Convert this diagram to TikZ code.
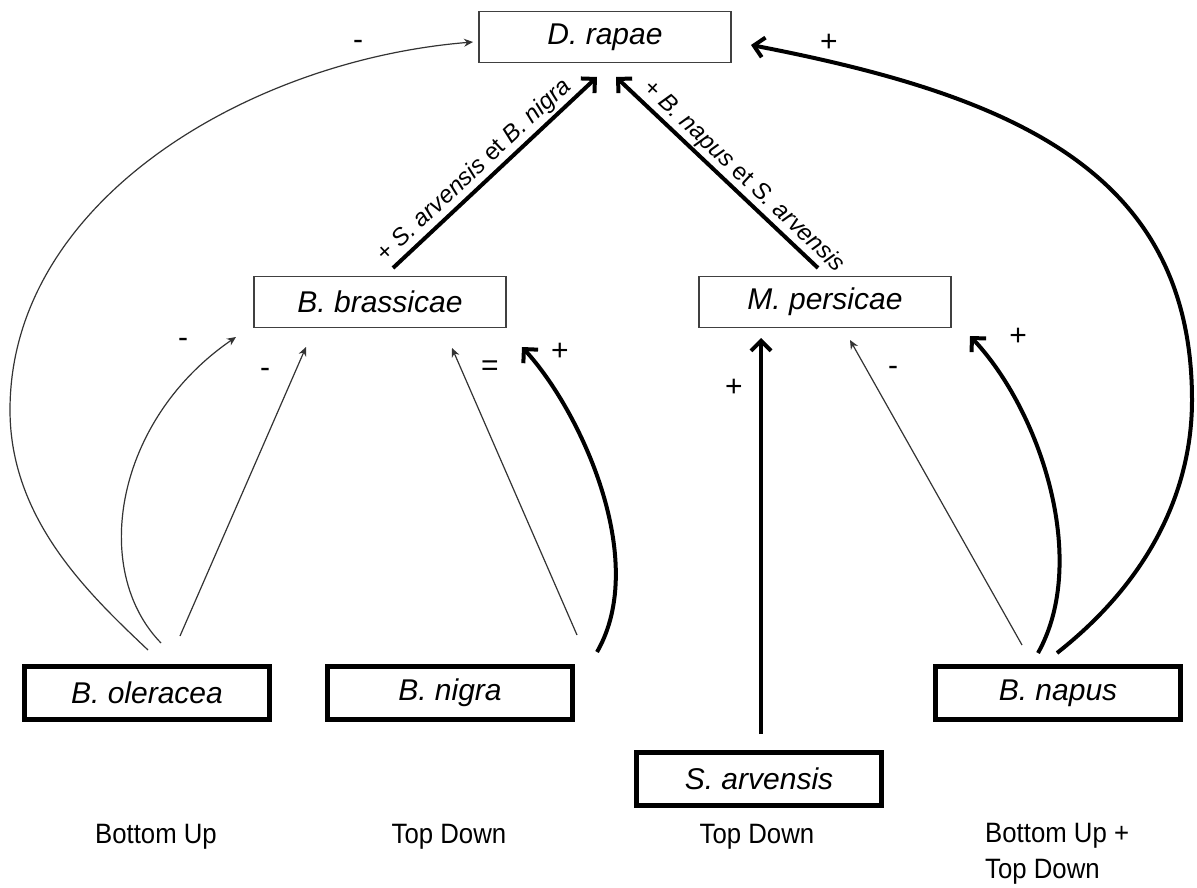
\documentclass[tikz,border=0pt]{standalone}
\usepackage{fontspec}
\setmainfont{Liberation Sans}
\newfontfamily\lblfont[FakeStretch=0.92]{Liberation Sans}
\usetikzlibrary{arrows.meta}
\begin{document}
\begin{tikzpicture}[x=1pt,y=-1pt,
  thinbox/.style={draw=black!75, line width=1.3pt, fill=white, minimum width=252pt, minimum height=51pt, font=\fontsize{30}{36}\selectfont\itshape, inner sep=0pt},
  thickbox/.style={draw=black, line width=5pt, fill=white, minimum width=245pt, minimum height=53pt, font=\fontsize{30}{36}\selectfont\itshape, inner sep=0pt},
  thinarrow/.style={draw=black!80, line width=1.2pt, -{Stealth[length=9pt,width=8pt]}},
  thickarrow/.style={draw=black, line width=4pt, -{Straight Barb[length=10pt,width=20pt]}},
  sign/.style={font=\fontsize{30}{34}\selectfont, inner sep=0pt},
  grouplbl/.style={font=\lblfont\fontsize{28}{36}\selectfont, inner sep=0pt, align=left},
  rot/.style={font=\fontsize{24}{28}\selectfont, inner sep=2pt}
]
\fill[white] (0,0) rectangle (1197,888);
\useasboundingbox (0,0) rectangle (1197,888);

% boxes
\node[thinbox] (rap) at (605,37) {D. rapae};
\node[thinbox] (bra) at (380,302) {B. brassicae};
\node[thinbox] (per) at (825,302) {M. persicae};
\node[thickbox] (ole) at (147,693) {B. oleracea};
\node[thickbox] (nig) at (450,693) {B. nigra};
\node[thickbox] (arv) at (759,779) {S. arvensis};
\node[thickbox] (nap) at (1058,693) {B. napus};

% connectors to D. rapae
\draw[thickarrow] ([shift={(13,-34)}]bra.center) -- node[rot,sloped,above,pos=0.45]{+ \textit{S. arvensis} et \textit{B. nigra}} ([shift={(-8,40)}]rap.center);
\draw[thickarrow] ([shift={(-7,-34)}]per.center) -- node[rot,sloped,above,pos=0.42]{+ \textit{B. napus} et \textit{S. arvensis}} ([shift={(11,40)}]rap.center);
\draw[thinarrow] ([shift={(1,-43)}]ole.center) .. controls (90,595) and (10,520) .. (10,410) .. controls (10,200) and (250,60) .. ([shift={(-132,5)}]rap.center);
\draw[thickarrow] ([shift={(-1,-40)}]nap.center) .. controls (1150,580) and (1192,490) .. (1192,400) .. controls (1192,170) and (1010,95) .. ([shift={(146,8)}]rap.center);

% connectors to B. brassicae
\draw[thinarrow] ([shift={(14,-50)}]ole.center) .. controls (90,570) and (115,420) .. ([shift={(-144,35)}]bra.center);
\draw[thinarrow] ([shift={(33,-57)}]ole.center) -- ([shift={(-74,45)}]bra.center);
\draw[thinarrow] ([shift={(127,-58)}]nig.center) -- ([shift={(72,46)}]bra.center);
\draw[thickarrow] ([shift={(147,-41)}]nig.center) .. controls (650,560) and (580,410) .. ([shift={(142,45)}]bra.center);

% connectors to M. persicae
\draw[thickarrow] ([shift={(2,-45)}]arv.center) -- ([shift={(-64,36)}]per.center);
\draw[thinarrow] ([shift={(-36,-48)}]nap.center) -- ([shift={(25,38)}]per.center);
\draw[thickarrow] ([shift={(-20,-40)}]nap.center) .. controls (1090,560) and (1040,410) .. ([shift={(145,34)}]per.center);

% signs
\node[sign] (s1) at (358,45) {-};
\node[sign] (s2) at (829,43) {+};
\node[sign] (s3) at (183,343) {-};
\node[sign] (s4) at (265,373) {-};
\node[sign] (s5) at (490,368) {=};
\node[sign] (s6) at (560,352) {+};
\node[sign] (s7) at (734,388) {+};
\node[sign] (s8) at (893,371) {-};
\node[sign] (s9) at (1018,337) {+};

% group labels
\node[grouplbl, anchor=base] (g1) at (156,843) {Bottom Up};
\node[grouplbl, anchor=base] (g2) at (449,843) {Top Down};
\node[grouplbl, anchor=base] (g3) at (757,843) {Top Down};
\node[grouplbl, anchor=north west] (g4) at (985,823) {Bottom Up +\\Top Down};
\end{tikzpicture}
\end{document}
